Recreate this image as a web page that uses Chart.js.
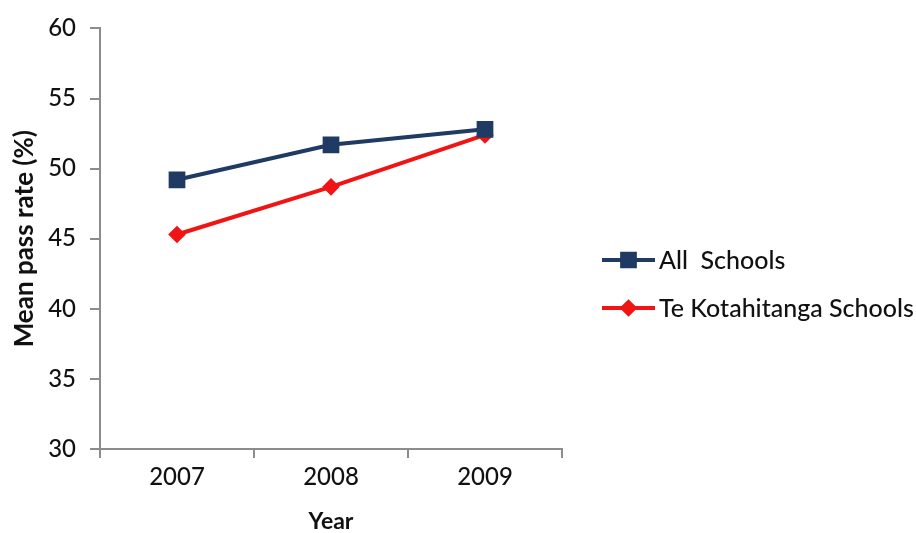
<!DOCTYPE html>
<html>
<head>
<meta charset="utf-8">
<script src="https://cdn.jsdelivr.net/npm/chart.js@4"></script>
<style>
  html, body { margin: 0; padding: 0; background: #fff; }
  #wrap { width: 916px; height: 533px; }
</style>
</head>
<body>
<div id="wrap"><canvas id="passChart" width="916" height="533"></canvas></div>
<script>
const years = ['2007', '2008', '2009'];
const allSchools = [49.2, 51.7, 52.8];
const teKotahitanga = [45.3, 48.7, 52.4];
const seriesNames = ['All  Schools', 'Te Kotahitanga Schools'];

const FONT = 'Lato, Carlito, "Open Sans", sans-serif';

// legend drawn by hand: line + marker + label, like the office-style legend
const sideLegend = {
    id: 'sideLegend',
    afterDraw(chart) {
        const ctx = chart.ctx;
        const x0 = 602, x1 = 655;
        const rows = [260, 308];
        chart.data.datasets.forEach((ds, i) => {
            const y = rows[i];
            ctx.save();
            ctx.strokeStyle = ds.borderColor;
            ctx.lineWidth = ds.borderWidth;
            ctx.beginPath();
            ctx.moveTo(x0, y);
            ctx.lineTo(x1, y);
            ctx.stroke();
            Chart.helpers.drawPoint(ctx, {
                pointStyle: ds.pointStyle,
                radius: ds.pointRadius,
                borderWidth: 1
            }, (x0 + x1) / 2, y);
            ctx.fillStyle = ds.pointBackgroundColor;
            ctx.fill();
            ctx.fillStyle = '#111';
            ctx.font = '500 25px ' + FONT;
            ctx.textBaseline = 'middle';
            ctx.fillText(ds.label, x1 + 4, y + 1);
            ctx.restore();
        });
    }
};

new Chart(document.getElementById('passChart'), {
    type: 'line',
    data: {
        labels: years,
        datasets: [{
            label: seriesNames[0],
            data: allSchools,
            borderColor: '#1f3a63',
            backgroundColor: '#1f3a63',
            pointBackgroundColor: '#1f3a63',
            pointBorderColor: '#1f3a63',
            borderWidth: 4,
            pointStyle: 'rect',
            pointRadius: 9,
            tension: 0
        }, {
            label: seriesNames[1],
            data: teKotahitanga,
            borderColor: '#f01414',
            backgroundColor: '#f01414',
            pointBackgroundColor: '#f01414',
            pointBorderColor: '#f01414',
            borderWidth: 4,
            pointStyle: 'rectRot',
            pointRadius: 6,
            tension: 0
        }]
    },
    options: {
        responsive: false,
        animation: false,
        layout: { padding: { top: 25, right: 354, left: 0, bottom: 0 } },
        plugins: {
            legend: { display: false },
            tooltip: { enabled: false }
        },
        scales: {
            x: {
                offset: true,
                grid: { offset: true, drawOnChartArea: false, tickLength: 9, color: '#8c8c8c', lineWidth: 2 },
                border: { color: '#8c8c8c', width: 2 },
                ticks: { color: '#111', font: { family: FONT, size: 24, weight: '500' }, padding: 5 },
                title: { display: true, text: 'Year', color: '#111', font: { family: FONT, size: 23, weight: 'bold' }, padding: { top: 0, bottom: -2 } },
                afterFit(scale) { scale.height = 84; }
            },
            y: {
                min: 30,
                max: 60,
                ticks: { stepSize: 5, color: '#111', font: { family: FONT, size: 24, weight: '500' }, padding: 14 },
                grid: { drawOnChartArea: false, tickLength: 10, color: '#8c8c8c', lineWidth: 2 },
                border: { color: '#8c8c8c', width: 2 },
                title: { display: true, text: 'Mean pass rate (%)', color: '#111', font: { family: FONT, size: 26, weight: 'bold' }, padding: { top: 9, bottom: 0 } },
                afterFit(scale) { scale.width = 100; }
            }
        }
    },
    plugins: [sideLegend]
});
</script>
</body>
</html>
